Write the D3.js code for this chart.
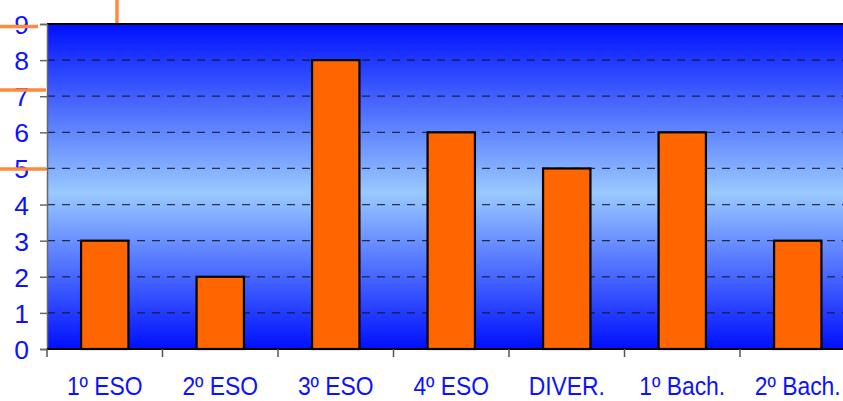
<!DOCTYPE html>
<html>
<head>
<meta charset="utf-8">
<script src="https://cdn.jsdelivr.net/npm/d3@7"></script>
<style>
  body { margin: 0; background: #fff; overflow: hidden; }
  text { font-family: "Liberation Sans", Arial, sans-serif; }
</style>
</head>
<body>
<div id="chart"></div>
<script>
// data
const categories = ["1º ESO", "2º ESO", "3º ESO", "4º ESO", "DIVER.", "1º Bach.", "2º Bach."];
const values = [3, 2, 8, 6, 5, 6, 3];
const yTicks = [0, 1, 2, 3, 4, 5, 6, 7, 8, 9];

const width = 843, height = 401;
const plot = { left: 47, top: 24, right: 855.5, bottom: 349 };

const svg = d3.select("#chart")
    .append("svg")
    .attr("width", width)
    .attr("height", height);

// background gradient, dark blue -> light blue -> dark blue
let defs = svg.append("defs");
let grad = defs.append("linearGradient")
    .attr("id", "bg")
    .attr("x1", 0).attr("y1", 0).attr("x2", 0).attr("y2", 1);
grad.append("stop").attr("offset", "0%").attr("stop-color", "#0010ff");
grad.append("stop").attr("offset", "52%").attr("stop-color", "#99c9ff");
grad.append("stop").attr("offset", "100%").attr("stop-color", "#0010ff");

let x = d3.scaleBand()
    .domain(categories)
    .range([plot.left, plot.right])
    .paddingInner(0.59)
    .paddingOuter(0.295);

let y = d3.scaleLinear()
    .domain([0, 9])
    .range([plot.bottom, plot.top]);

svg.append("rect")
    .attr("x", plot.left)
    .attr("y", plot.top)
    .attr("width", plot.right - plot.left)
    .attr("height", plot.bottom - plot.top)
    .attr("fill", "url(#bg)");

// dashed grid lines
svg.append("g")
    .selectAll("line")
    .data(yTicks.filter(d => d > 0 && d < 9))
    .enter()
    .append("line")
    .attr("x1", plot.left)
    .attr("x2", width)
    .attr("y1", d => y(d))
    .attr("y2", d => y(d))
    .attr("stroke", "#111")
    .attr("stroke-opacity", 0.8)
    .attr("stroke-width", 1.3)
    .attr("stroke-dasharray", "8,7");

// bars
svg.append("g")
    .selectAll("rect")
    .data(values)
    .enter()
    .append("rect")
    .attr("x", (d, i) => x(categories[i]))
    .attr("y", d => y(d))
    .attr("width", x.bandwidth())
    .attr("height", d => y(0) - y(d))
    .attr("fill", "#ff6600")
    .attr("stroke", "#000")
    .attr("stroke-width", 2.2);

// top border
svg.append("line")
    .attr("x1", plot.left).attr("x2", width)
    .attr("y1", plot.top).attr("y2", plot.top)
    .attr("stroke", "#000").attr("stroke-width", 2);

// y axis
let yAxis = svg.append("g")
    .attr("transform", `translate(${plot.left},0)`)
    .call(d3.axisLeft(y).tickValues(yTicks).tickSize(7).tickPadding(11).tickFormat(d3.format("d")));
yAxis.select(".domain").attr("stroke", "#666").attr("stroke-width", 1.5);
yAxis.selectAll(".tick line").attr("stroke", "#666").attr("stroke-width", 1.5);
yAxis.selectAll(".tick text")
    .attr("fill", "#0c12ff")
    .attr("dy", "0.36em")
    .style("font-size", "26.5px")
    .style("font-family", "'Liberation Sans', Arial, sans-serif");

// x axis, ticks at band boundaries
let xAxis = svg.append("g")
    .attr("transform", `translate(0,${plot.bottom})`);
xAxis.append("line")
    .attr("x1", plot.left).attr("x2", width)
    .attr("stroke", "#000").attr("stroke-width", 2);
xAxis.selectAll(".sep")
    .data(categories)
    .enter()
    .append("line")
    .attr("class", "sep")
    .attr("x1", d => x(d) - x.step() * x.paddingOuter())
    .attr("x2", d => x(d) - x.step() * x.paddingOuter())
    .attr("y1", 0).attr("y2", 8)
    .attr("stroke", "#555").attr("stroke-width", 1.5);
// labels are a bit condensed in the original
xAxis.selectAll("text")
    .data(categories)
    .enter()
    .append("text")
    .attr("transform", d => `translate(${x(d) + x.bandwidth() / 2},46) scale(0.88,1)`)
    .style("text-anchor", "middle")
    .style("font-size", "26px")
    .attr("fill", "#0c12ff")
    .text(d => d);

// orange decoration strokes from the original slide
let deco = svg.append("g").attr("stroke", "#ff8a3d").attr("stroke-width", 3.5);
deco.append("line").attr("x1", 117).attr("x2", 117).attr("y1", 0).attr("y2", 23);
deco.append("line").attr("x1", 0).attr("x2", 38).attr("y1", 26.5).attr("y2", 26.5);
deco.append("line").attr("x1", 0).attr("x2", 46).attr("y1", 90).attr("y2", 90);
deco.append("line").attr("x1", 0).attr("x2", 46).attr("y1", 169).attr("y2", 169);
</script>
</body>
</html>
